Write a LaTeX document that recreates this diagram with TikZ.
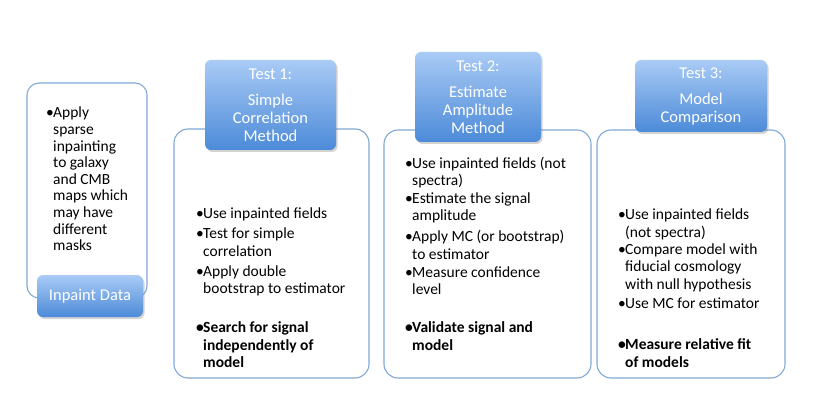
\documentclass[tikz,border=0pt]{standalone}
\usepackage{fontspec}
\setmainfont{Carlito}
\usetikzlibrary{shadows}

\definecolor{tabtop}{HTML}{A9CBF5}
\definecolor{tabbot}{HTML}{4C8AD8}
\definecolor{boxline}{HTML}{80A8D9}

% bullet and hanging indent for the lists
\newcommand{\bul}{\makebox[7pt][l]{\textbullet}}
\newcommand{\ind}{\hspace*{7pt}}

\begin{document}
\begin{tikzpicture}[x=1pt, y=-1pt,
    every node/.style={font=\fontsize{15.5}{17.3}\selectfont},
    panel/.style={draw=boxline, line width=1.1pt, rounded corners=14pt},
    tab/.style={rounded corners=6pt, top color=tabtop, bottom color=tabbot,
        text=white, align=center, font=\fontsize{16.5}{18}\selectfont,
        drop shadow={shadow xshift=1.5pt, shadow yshift=-2pt, opacity=0.35}},
    list/.style={anchor=north west, inner sep=0pt, align=left}]
    \useasboundingbox (0,0) rectangle (817,417);

    % panels
    \node[panel, rounded corners=12pt, minimum width=120pt, minimum height=215pt] (inpaint) at (87,190.5) {};
    \node[panel, minimum width=195pt, minimum height=249pt] (simple) at (271.5,253.5) {};
    \node[panel, minimum width=207pt, minimum height=248pt] (amp) at (487.5,254) {};
    \node[panel, minimum width=188pt, minimum height=248pt] (comp) at (691,254) {};

    % panel texts
    \node[list, font=\fontsize{15.5}{16.6}\selectfont] (inpainttxt) at (46,107) {\bul Apply\\ \ind sparse\\ \ind inpainting\\ \ind to galaxy\\
        \ind and CMB\\ \ind maps which\\ \ind may have\\ \ind different\\ \ind masks};
    \node[list] (simpletxt) at (196,207.5) {\bul Use inpainted fields\\[3pt]
        \bul Test for simple\\ \ind correlation\\[3pt]
        \bul Apply double\\ \ind bootstrap to estimator\\[22pt]
        \textbf{\bul Search for signal}\\ \ind\textbf{independently of}\\ \ind\textbf{model}};
    \node[list] (amptxt) at (405,156.5) {\bul Use inpainted fields (not\\ \ind spectra)\\[1pt]
        \bul Estimate the signal\\ \ind amplitude\\[3.5pt]
        \bul Apply MC (or bootstrap)\\ \ind to estimator\\[1pt]
        \bul Measure confidence\\ \ind level\\[21pt]
        \textbf{\bul Validate signal and}\\ \ind\textbf{model}};
    \node[list] (comptxt) at (618,209) {\bul Use inpainted fields\\ \ind (not spectra)\\
        \bul Compare model with\\ \ind fiducial cosmology\\ \ind with null hypothesis\\[2.5pt]
        \bul Use MC for estimator\\[23.5pt]
        \textbf{\bul Measure relative fit}\\ \ind\textbf{of models}};

    % header tabs
    \node[tab, minimum width=106pt, minimum height=42pt] (inpainttab) at (90,296) {Inpaint Data};
    \node[tab, minimum width=131pt, minimum height=90pt] (simpletab) at (270.5,105)
        {Test 1:\\[8pt] Simple\\ Correlation\\ Method};
    \node[tab, minimum width=126pt, minimum height=90pt] (amptab) at (478,97)
        {Test 2:\\[8pt] Estimate\\ Amplitude\\ Method};
    \node[tab, minimum width=132pt, minimum height=72pt] (comptab) at (701,96)
        {Test 3:\\[8pt] Model\\ Comparison};
\end{tikzpicture}
\end{document}
